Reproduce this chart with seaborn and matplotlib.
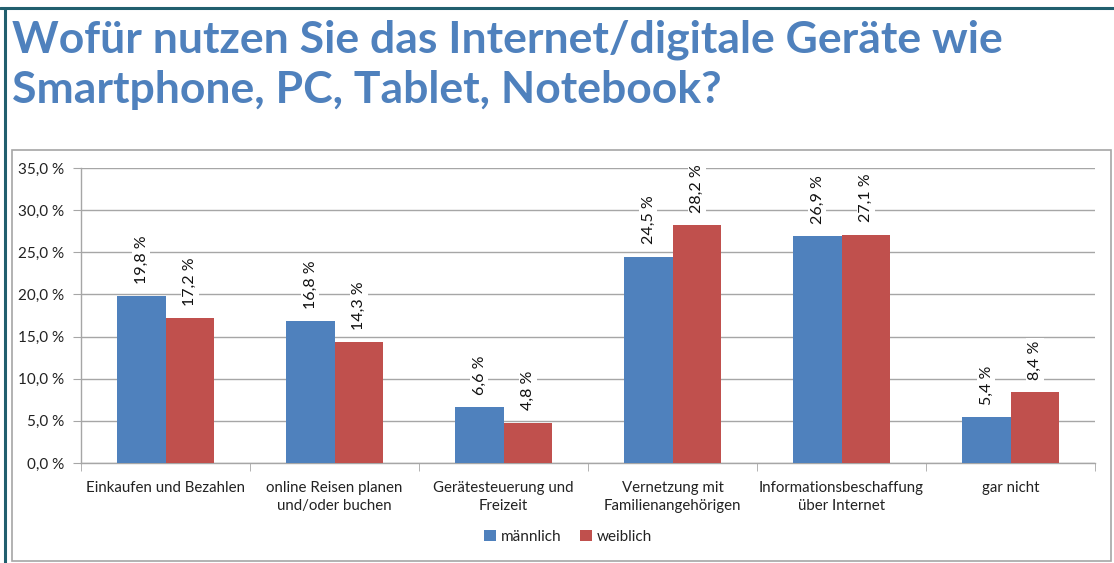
import matplotlib
matplotlib.use("Agg")
import matplotlib.pyplot as plt
import seaborn as sns
import pandas as pd
from matplotlib.patches import Rectangle
from matplotlib.lines import Line2D

# data
categories = ["Einkaufen und Bezahlen", "online Reisen planen\nund/oder buchen",
              "Gerätesteuerung und\nFreizeit", "Vernetzung mit\nFamilienangehörigen",
              "Informationsbeschaffung\nüber Internet", "gar nicht"]
maennlich = [19.8, 16.8, 6.6, 24.5, 26.9, 5.4]
weiblich = [17.2, 14.3, 4.8, 28.2, 27.1, 8.4]
series = ["männlich", "weiblich"]
yticks = [0, 5, 10, 15, 20, 25, 30, 35]

df = pd.DataFrame({
    "Kategorie": categories * 2,
    "Anteil": maennlich + weiblich,
    "Geschlecht": [series[0]] * len(categories) + [series[1]] * len(categories),
})

sns.set_style("white")
plt.rcParams["font.family"] = ["Lato", "DejaVu Sans"]

colors = ["#4F81BD", "#C0504D"]
fig = plt.figure(figsize=(11.14, 5.63), dpi=100)

# outer frame lines (teal) and inner chart box (gray)
fig.add_artist(Line2D([0, 1], [1 - 8/563, 1 - 8/563], color="#215F6E", lw=2.2))
fig.add_artist(Line2D([5/1114, 5/1114], [0, 1 - 8/563], color="#215F6E", lw=2.2))
fig.add_artist(Rectangle((12/1114, 2/563), (1111-12)/1114, (561-150)/563,
                         transform=fig.transFigure, fill=False, ec="#A6A6A6", lw=1.2))

# title
fig.text(12/1114, 1 - 40/563, "Wofür nutzen Sie das Internet/digitale Geräte wie",
         fontsize=32, fontweight="bold", color="#4F81BD", va="center", ha="left")
fig.text(12/1114, 1 - 90/563, "Smartphone, PC, Tablet, Notebook?",
         fontsize=32, fontweight="bold", color="#4F81BD", va="center", ha="left")

ax = fig.add_axes([81/1114, 1 - 463/563, (1095-81)/1114, (463-168)/563])
sns.barplot(data=df, x="Kategorie", y="Anteil", hue="Geschlecht", palette=colors,
            width=0.57, saturation=1, linewidth=0, ax=ax, legend=True, zorder=3)

ax.set_ylim(0, 35)
ax.set_yticks(yticks)
ax.set_yticklabels([f"{v:.1f} %".replace(".", ",") for v in yticks], fontsize=11, color="#222222")
ax.yaxis.grid(True, color="#A6A6A6", lw=1)
ax.set_axisbelow(True)
ax.set_xlim(-0.5, len(categories) - 0.5)
ax.set_xlabel("")
ax.set_ylabel("")
ax.set_xticks(range(len(categories)))
ax.set_xticklabels(categories, fontsize=10.8, color="#222222", linespacing=1.4)
ax.tick_params(axis="x", length=0, pad=13)
ax.set_xticks([i - 0.5 for i in range(len(categories) + 1)], minor=True)
ax.tick_params(axis="x", which="minor", length=6, color="#A6A6A6", direction="out", bottom=True)
ax.tick_params(axis="y", length=6, color="#A6A6A6", direction="out", left=True, pad=6)
for s in ["top", "right"]:
    ax.spines[s].set_visible(False)
for s in ["left", "bottom"]:
    ax.spines[s].set_color("#A6A6A6")
    ax.spines[s].set_linewidth(1)

for cont in ax.containers:
    labels = [f"{v:.1f} %".replace(".", ",") for v in cont.datavalues]
    txts = ax.bar_label(cont, labels=labels, rotation=90, padding=9, fontsize=11.5,
                        color="#111111")
    for t in txts:
        t.set_bbox(dict(facecolor="white", edgecolor="none", pad=1.5))
        t.set_zorder(4)

leg = ax.legend(loc="center", bbox_to_anchor=(0.48, -0.25), ncol=2, frameon=False,
                fontsize=11, handlelength=0.8, handleheight=0.8, handletextpad=0.3,
                columnspacing=1.2)
for t in leg.get_texts():
    t.set_color("#222222")

fig.savefig("out.png", dpi=100)
